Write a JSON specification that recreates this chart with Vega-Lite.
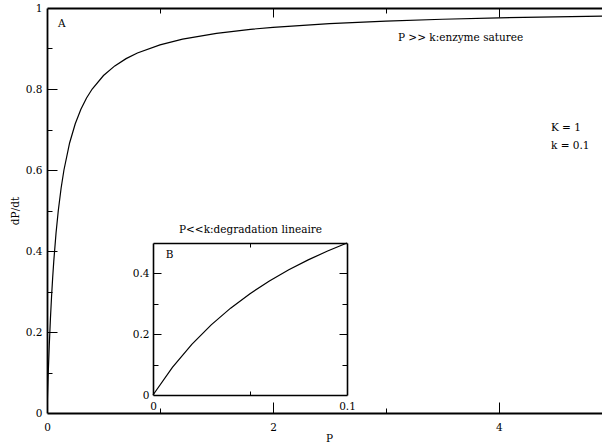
{
  "$schema": "https://vega.github.io/schema/vega-lite/v6.json",
  "width": 555,
  "height": 405,
  "autosize": {"type": "none"},
  "padding": {"left": 47, "top": 8, "right": 0, "bottom": 32},
  "background": "white",
  "config": {
    "view": {"stroke": null},
    "font": "DejaVu Serif",
    "axis": {
      "grid": false,
      "labelFont": "DejaVu Serif",
      "labelFontSize": 10.5,
      "labelColor": "black",
      "titleFont": "DejaVu Serif",
      "titleFontSize": 10.5,
      "titleFontWeight": "normal",
      "titleColor": "black",
      "domainColor": "black",
      "tickColor": "black",
      "tickWidth": 1,
      "labelFlush": false,
      "labelOverlap": false,
      "format": "~g"
    },
    "text": {"font": "DejaVu Serif", "fontSize": 10.5, "color": "black"}
  },
  "datasets": {
    "saturation": [
      {"P": 0, "v": 0},
      {"P": 0.005, "v": 0.0476},
      {"P": 0.01, "v": 0.0909},
      {"P": 0.02, "v": 0.1667},
      {"P": 0.03, "v": 0.2308},
      {"P": 0.04, "v": 0.2857},
      {"P": 0.05, "v": 0.3333},
      {"P": 0.06, "v": 0.375},
      {"P": 0.08, "v": 0.4444},
      {"P": 0.1, "v": 0.5},
      {"P": 0.125, "v": 0.5556},
      {"P": 0.15, "v": 0.6},
      {"P": 0.2, "v": 0.6667},
      {"P": 0.25, "v": 0.7143},
      {"P": 0.3, "v": 0.75},
      {"P": 0.35, "v": 0.7778},
      {"P": 0.4, "v": 0.8},
      {"P": 0.5, "v": 0.8333},
      {"P": 0.6, "v": 0.8571},
      {"P": 0.7, "v": 0.875},
      {"P": 0.8, "v": 0.8889},
      {"P": 1.0, "v": 0.9091},
      {"P": 1.2, "v": 0.9231},
      {"P": 1.5, "v": 0.9375},
      {"P": 1.8, "v": 0.9474},
      {"P": 2.0, "v": 0.9524},
      {"P": 2.5, "v": 0.9615},
      {"P": 3.0, "v": 0.9677},
      {"P": 3.5, "v": 0.9722},
      {"P": 4.0, "v": 0.9756},
      {"P": 4.5, "v": 0.9783},
      {"P": 5.0, "v": 0.9804}
    ],
    "linear": [
      {"P": 0, "v": 0},
      {"P": 0.01, "v": 0.0909},
      {"P": 0.02, "v": 0.1667},
      {"P": 0.03, "v": 0.2308},
      {"P": 0.04, "v": 0.2857},
      {"P": 0.05, "v": 0.3333},
      {"P": 0.06, "v": 0.375},
      {"P": 0.07, "v": 0.4118},
      {"P": 0.08, "v": 0.4444},
      {"P": 0.09, "v": 0.4737},
      {"P": 0.1, "v": 0.5}
    ],
    "notes": [
      {"label": "A", "P": 0.097, "v": 0.9605},
      {"label": "P >> k:enzyme saturee", "P": 3.106, "v": 0.926},
      {"label": "K = 1", "P": 4.46, "v": 0.703},
      {"label": "k = 0.1", "P": 4.46, "v": 0.659}
    ],
    "insetNotes": [
      {"label": "B", "P": 0.0066, "v": 0.46}
    ]
  },
  "layer": [
    {
      "data": {"name": "saturation"},
      "mark": {"type": "line", "color": "black", "strokeWidth": 1.2, "clip": true},
      "encoding": {
        "x": {"field": "P", "type": "quantitative",
          "scale": {"domain": [0, 4.912], "nice": false, "zero": false},
          "axis": {"orient": "bottom", "values": [0, 2, 4], "ticks": false, "domainWidth": 1.8,
            "labelPadding": 9, "title": "P", "titleX": 282, "titleY": 20}},
        "y": {"field": "v", "type": "quantitative",
          "scale": {"domain": [0, 1], "nice": false},
          "axis": {"orient": "left", "values": [0, 0.2, 0.4, 0.6, 0.8, 1], "ticks": false, "domainWidth": 1.8,
            "labelPadding": 5, "title": "dP/dt", "titlePadding": 5}}
      }
    },
    {
      "data": {"name": "saturation"},
      "mark": {"type": "line", "opacity": 0},
      "encoding": {
        "x": {"field": "P", "type": "quantitative",
          "scale": {"domain": [0, 4.912], "nice": false, "zero": false},
          "axis": {"orient": "bottom", "values": [2, 4], "labels": false, "domain": false, "tickSize": -11, "title": null}},
        "y": {"field": "v", "type": "quantitative",
          "scale": {"domain": [0, 1], "nice": false},
          "axis": {"orient": "left", "values": [0.2, 0.4, 0.6, 0.8], "labels": false, "domain": false, "tickSize": -10, "title": null}}
      }
    },
    {
      "data": {"name": "saturation"},
      "mark": {"type": "line", "opacity": 0},
      "encoding": {
        "x": {"field": "P", "type": "quantitative",
          "scale": {"domain": [0, 4.912], "nice": false, "zero": false},
          "axis": {"orient": "bottom", "values": [1, 3], "labels": false, "domain": false, "tickSize": -5, "title": null}},
        "y": {"field": "v", "type": "quantitative",
          "scale": {"domain": [0, 1], "nice": false},
          "axis": {"orient": "left", "values": [0.1, 0.3, 0.5, 0.7, 0.9], "labels": false, "domain": false, "tickSize": -5, "title": null}}
      }
    },
    {
      "data": {"name": "saturation"},
      "mark": {"type": "line", "opacity": 0},
      "encoding": {
        "x": {"field": "P", "type": "quantitative",
          "scale": {"domain": [0, 4.912], "nice": false, "zero": false},
          "axis": {"orient": "top", "values": [2, 4], "labels": false, "domainWidth": 1.8, "tickSize": -9, "title": null}},
        "y": {"field": "v", "type": "quantitative",
          "scale": {"domain": [0, 1], "nice": false}, "axis": null}
      }
    },
    {
      "data": {"name": "saturation"},
      "mark": {"type": "line", "opacity": 0},
      "encoding": {
        "x": {"field": "P", "type": "quantitative",
          "scale": {"domain": [0, 4.912], "nice": false, "zero": false},
          "axis": {"orient": "top", "values": [1, 3], "labels": false, "domain": false, "tickSize": -5, "title": null}},
        "y": {"field": "v", "type": "quantitative",
          "scale": {"domain": [0, 1], "nice": false}, "axis": null}
      }
    },
    {
      "data": {"name": "notes"},
      "mark": {"type": "text", "align": "left", "baseline": "middle"},
      "encoding": {
        "x": {"field": "P", "type": "quantitative",
          "scale": {"domain": [0, 4.912], "nice": false, "zero": false}, "axis": null},
        "y": {"field": "v", "type": "quantitative",
          "scale": {"domain": [0, 1], "nice": false}, "axis": null},
        "text": {"field": "label"}
      }
    },
    {
      "data": {"name": "linear"},
      "mark": {"type": "line", "color": "black", "strokeWidth": 1.2},
      "encoding": {
        "x": {"field": "P", "type": "quantitative",
          "scale": {"domain": [0, 0.1], "nice": false, "zero": false, "range": [106, 300]},
          "axis": {"orient": "bottom", "offset": -18, "values": [0, 0.1], "ticks": false, "domainWidth": 1.6,
            "labelPadding": 6, "title": null}},
        "y": {"field": "v", "type": "quantitative",
          "scale": {"domain": [0, 0.5], "nice": false, "range": [387, 235]},
          "axis": {"orient": "left", "offset": -106, "values": [0, 0.2, 0.4], "ticks": false, "domainWidth": 1.6,
            "labelPadding": 4, "title": null}}
      }
    },
    {
      "data": {"name": "linear"},
      "mark": {"type": "line", "opacity": 0},
      "encoding": {
        "x": {"field": "P", "type": "quantitative",
          "scale": {"domain": [0, 0.1], "nice": false, "zero": false, "range": [106, 300]},
          "axis": {"orient": "bottom", "offset": -18, "values": [0.05], "labels": false, "domain": false, "tickSize": -4, "title": null}},
        "y": {"field": "v", "type": "quantitative",
          "scale": {"domain": [0, 0.5], "nice": false, "range": [387, 235]},
          "axis": {"orient": "left", "offset": -106, "values": [0.2, 0.4], "labels": false, "domain": false, "tickSize": -8, "title": null}}
      }
    },
    {
      "data": {"name": "linear"},
      "mark": {"type": "line", "opacity": 0},
      "encoding": {
        "x": {"field": "P", "type": "quantitative",
          "scale": {"domain": [0, 0.1], "nice": false, "zero": false, "range": [106, 300]},
          "axis": {"orient": "top", "offset": -235, "values": [0.05], "labels": false, "domainWidth": 1.6, "tickSize": -4,
            "title": "P<<k:degradation lineaire", "titlePadding": 8}},
        "y": {"field": "v", "type": "quantitative",
          "scale": {"domain": [0, 0.5], "nice": false, "range": [387, 235]},
          "axis": {"orient": "left", "offset": -106, "values": [0.1, 0.3], "labels": false, "domain": false, "tickSize": -5, "title": null}}
      }
    },
    {
      "data": {"name": "insetNotes"},
      "mark": {"type": "text", "align": "left", "baseline": "middle"},
      "encoding": {
        "x": {"field": "P", "type": "quantitative",
          "scale": {"domain": [0, 0.1], "nice": false, "zero": false, "range": [106, 300]}, "axis": null},
        "y": {"field": "v", "type": "quantitative",
          "scale": {"domain": [0, 0.5], "nice": false, "range": [387, 235]},
          "axis": {"orient": "right", "offset": -255, "values": [0.2, 0.4], "labels": false, "domainWidth": 1.6, "tickSize": -8, "title": null}},
        "text": {"field": "label"}
      }
    },
    {
      "data": {"name": "linear"},
      "mark": {"type": "line", "opacity": 0},
      "encoding": {
        "x": {"field": "P", "type": "quantitative",
          "scale": {"domain": [0, 0.1], "nice": false, "zero": false, "range": [106, 300]}, "axis": null},
        "y": {"field": "v", "type": "quantitative",
          "scale": {"domain": [0, 0.5], "nice": false, "range": [387, 235]},
          "axis": {"orient": "right", "offset": -255, "values": [0.1, 0.3], "labels": false, "domain": false, "tickSize": -5, "title": null}}
      }
    }
  ],
  "resolve": {
    "scale": {"x": "independent", "y": "independent"},
    "axis": {"x": "independent", "y": "independent"}
  }
}
